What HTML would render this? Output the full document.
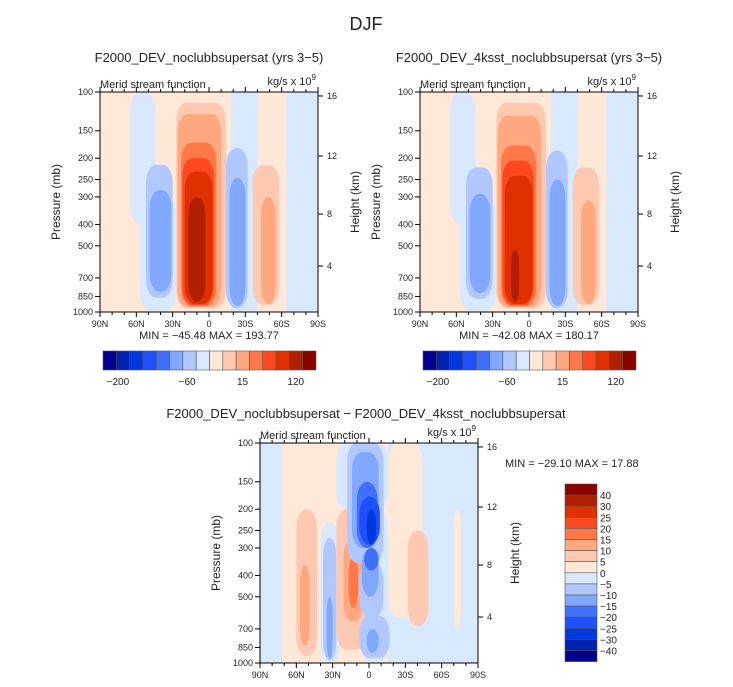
<!DOCTYPE html>
<html><head><meta charset="utf-8"><style>
body{margin:0;background:#fff}
svg{display:block;font-family:"Liberation Sans",sans-serif}
</style></head><body>
<svg id="fig" width="733" height="687" viewBox="0 0 733 687" xmlns="http://www.w3.org/2000/svg">
<text x="366" y="30" font-size="18" text-anchor="middle" fill="#222">DJF</text>
<g id="p1"></g>
<g id="p2"></g>
<g id="p3"></g>
<text x="366" y="418" font-size="13" text-anchor="middle" fill="#222">F2000_DEV_noclubbsupersat − F2000_DEV_4ksst_noclubbsupersat</text>
<text x="505" y="467" font-size="11" fill="#222">MIN = −29.10   MAX = 17.88</text>
</svg>
<script>
const NS='http://www.w3.org/2000/svg';
const colors=['#00008c','#0020b0','#0038e0','#1f4fff','#4070ff','#80a8ff','#b0c8ff','#d8e8ff','#ffe8d8','#ffc8b0','#ffa880','#ff7848','#ff4820','#e03000','#b02000','#8c0000'];
const latTicks=[90,60,30,0,-30,-60,-90];
const latLabels=['90N','60N','30N','0','30S','60S','90S'];
const presTicks=[100,150,200,250,300,400,500,700,850,1000];
const kmTicks=[16,12,8,4];
const kmFrac=[0.018,0.291,0.555,0.791];
const topBarLabels=['-200','-60','15','120'];
const diffBarLabels=['40','30','25','20','15','10','5','0','-5','-10','-15','-20','-25','-30','-40'];
// regions: [lat0, lat1, pTop, pBottom, level]
const regionsCtl=[[65,44,100,400,-1],[57,27,300,990,-1],[52,30,214,862,-2],[49,31,279,810,-3],
[27,-14,112,960,2],[26,-10,126,950,3],[23,-6,170,940,4],[22,-4,200,930,5],[20,-3,230,920,6],[17,3,300,900,7],
[-18,-40,100,990,-1],[-14,-32,180,960,-2],[-17,-30,245,940,-3],
[-36,-58,215,930,2],[-43,-55,300,920,3],[-64,-90,100,990,-1]];
const regions4k=[[65,44,100,400,-1],[57,27,300,990,-1],[52,30,220,870,-2],[49,32,290,820,-3],
[27,-14,112,960,2],[26,-10,128,950,3],[23,-6,175,940,4],[22,-4,205,930,5],[20,-3,240,920,6],[15,8,520,900,7],
[-18,-40,100,990,-1],[-14,-32,185,960,-2],[-17,-30,250,940,-3],
[-36,-58,220,930,2],[-43,-55,310,920,3],[-64,-90,100,990,-1]];
const regionsDiff=[[72,-16,100,1000,1],[27,-16,100,200,-1],[6,-16,200,1000,-1],[-16,-44,100,620,1],
[60,43,200,930,2],[57,49,360,830,3],
[40,24,230,1000,-1],[38,27,270,970,-2],[35,30,500,950,-3],
[27,2,200,870,2],[21,5,270,650,3],[17,9,330,560,4],
[18,-12,100,350,-2],[8,-12,350,620,-2],[14,-8,110,300,-3],[6,-8,300,500,-3],[10,-7,150,300,-4],[4,-8,300,380,-4],[8,-9,175,290,-5],[2,-6,200,290,-6],
[8,-17,610,950,-2],[2,-8,700,900,-3],
[-32,-49,250,680,2],[-70,-76,200,700,1]];
function lvlColor(l){return colors[l<0?8+l:7+l];}
function el(tag,attrs,parent){const e=document.createElementNS(NS,tag);for(const k in attrs)e.setAttribute(k,attrs[k]);parent.appendChild(e);return e;}
function panel(g,x0,y0,w,h,regions,bg,title,minmax){
  const xs=lat=>x0+(90-lat)/180*w;
  const ys=p=>y0+(Math.log10(p)-2)*h;
  el('rect',{x:x0,y:y0,width:w,height:h,fill:lvlColor(bg)},g);
  regions.forEach(r=>{
    const a=xs(r[0]),b=xs(r[1]),t=ys(r[2]),bt=ys(r[3]);
    const ww=b-a,hh=bt-t;
    const full=r[2]<=100&&r[3]>=990;
    const rc=el('rect',{x:a,y:t,width:ww,height:hh,rx:full?0:Math.min(ww/2,10),ry:full?0:Math.min(hh/2,18),fill:lvlColor(r[4])},g);
    
    
  });
  el('rect',{x:x0,y:y0,width:w,height:h,fill:'none',stroke:'#000','stroke-width':1},g);
  latTicks.forEach((lt,i)=>{
    const x=xs(lt);
    el('line',{x1:x,y1:y0+h,x2:x,y2:y0+h+5,stroke:'#000'},g);
    el('line',{x1:x,y1:y0,x2:x,y2:y0-5,stroke:'#000'},g);
    const t=el('text',{x:x,y:y0+h+15,'font-size':9,'text-anchor':'middle',fill:'#222'},g);t.textContent=latLabels[i];
    
    
  });
  for(let lt=80;lt>-90;lt-=10){if(lt%30){const x=xs(lt);el('line',{x1:x,y1:y0+h,x2:x,y2:y0+h+3,stroke:'#000'},g);el('line',{x1:x,y1:y0,x2:x,y2:y0-3,stroke:'#000'},g);}}
  presTicks.forEach(p=>{
    const y=ys(p);
    el('line',{x1:x0-5,y1:y,x2:x0,y2:y,stroke:'#000'},g);
    const t=el('text',{x:x0-7,y:y+3,'font-size':9,'text-anchor':'end',fill:'#222'},g);t.textContent=p;
    
    
  });
  kmTicks.forEach((k,i)=>{
    const y=y0+kmFrac[i]*h;
    el('line',{x1:x0+w,y1:y,x2:x0+w+5,y2:y,stroke:'#000'},g);
    const t=el('text',{x:x0+w+9,y:y+3,'font-size':9,fill:'#222'},g);t.textContent=k;
    
    
  });
  let t=el('text',{transform:`translate(${x0-40},${y0+h/2}) rotate(-90)`,'font-size':12,'text-anchor':'middle',fill:'#222'},g);t.textContent='Pressure (mb)';
  
  
  t=el('text',{transform:`translate(${x0+w+41},${y0+h/2}) rotate(-90)`,'font-size':12,'text-anchor':'middle',fill:'#222'},g);t.textContent='Height (km)';
  
  
  t=el('text',{x:x0,y:y0-4,'font-size':11,fill:'#222'},g);t.textContent='Merid stream function';
  
  
  t=el('text',{x:x0+w-2,y:y0-7,'font-size':11,'text-anchor':'end',fill:'#222'},g);t.innerHTML='kg/s x 10<tspan font-size="8" dy="-5">9</tspan>';
  
  
  if(title){t=el('text',{x:x0+w/2,y:y0-30,'font-size':13,'text-anchor':'middle',fill:'#222'},g);t.textContent=title;
    
    }
  if(minmax){t=el('text',{x:x0+w/2,y:y0+h+27,'font-size':11,'text-anchor':'middle',fill:'#222'},g);t.textContent=minmax;
    
    }
}
function hbar(g,x0,y0,w,h,labelX){
  const bw=w/16;
  colors.forEach((c,i)=>{const r=el('rect',{x:x0+i*bw,y:y0,width:bw,height:h,fill:c,stroke:'#555','stroke-width':0.6},g);
    
    });
  topBarLabels.forEach((l,i)=>{const t=el('text',{x:x0+labelX[i]*w,y:y0+h+15,'font-size':10,'text-anchor':'middle',fill:'#222'},g);t.textContent=l.replace('-','−');
    
    });
}
const p1=document.getElementById('p1'),p2=document.getElementById('p2'),p3=document.getElementById('p3');
panel(p1,100,92,218,220,regionsCtl,1,'F2000_DEV_noclubbsupersat (yrs 3−5)','MIN = −45.48   MAX = 193.77');
panel(p2,420,92,218,220,regions4k,1,'F2000_DEV_4ksst_noclubbsupersat (yrs 3−5)','MIN = −42.08   MAX = 180.17');
panel(p3,260,443,218,220,regionsDiff,-1,null,null);
const lx=[0.07,0.395,0.655,0.905];
hbar(p1,103,351,213,19,lx);
hbar(p2,423,351,213,19,lx);
const vb=11.1;
colors.slice().reverse().forEach((c,i)=>{const r=el('rect',{x:565,y:484+i*vb,width:32,height:vb,fill:c,stroke:'#555','stroke-width':0.6},p3);
  
  });
diffBarLabels.forEach((l,i)=>{const t=el('text',{x:600,y:484+(i+1)*vb+4,'font-size':10,fill:'#222'},p3);t.textContent=l.replace('-','−');
  
  });
</script>
</body></html>
